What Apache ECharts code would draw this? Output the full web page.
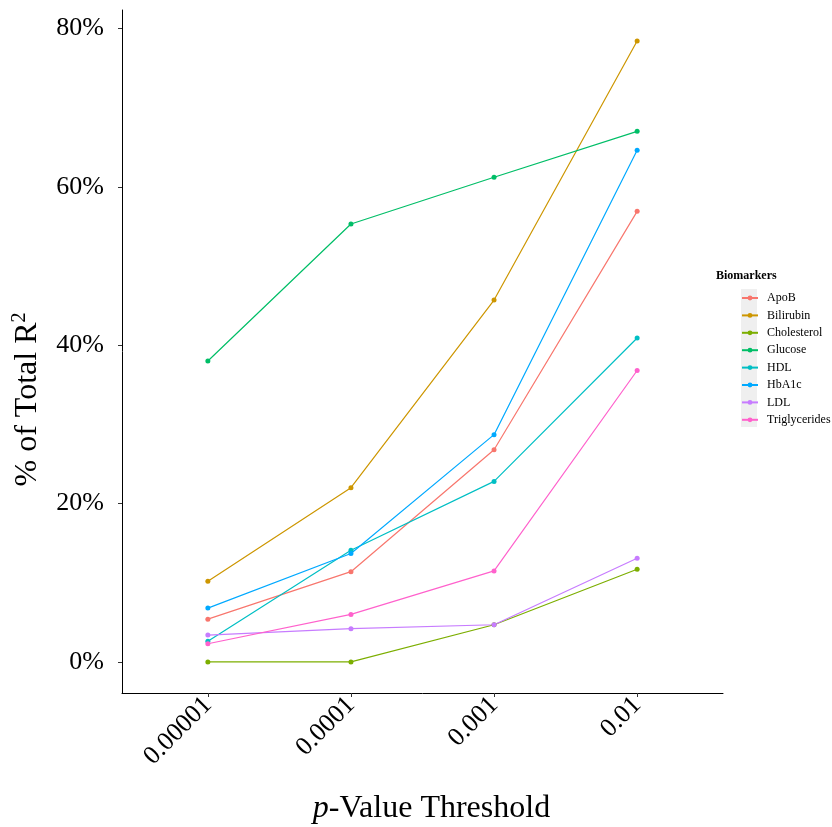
<!DOCTYPE html>
<html>
<head>
<meta charset="utf-8">
<script src="https://cdn.jsdelivr.net/npm/echarts@6/dist/echarts.min.js"></script>
<style>html,body{margin:0;padding:0;background:#fff}#c{width:832px;height:827px}</style>
</head>
<body>
<div id="c"></div>
<script>
const thresholds = ['0.00001', '0.0001', '0.001', '0.01'];
const yTicks = [0, 20, 40, 60, 80];
const ApoB = [5.4, 11.4, 26.8, 56.9];
const Bilirubin = [10.2, 22.0, 45.7, 78.4];
const Cholesterol = [0.0, 0.0, 4.7, 11.7];
const Glucose = [38.0, 55.3, 61.2, 67.0];
const HDL = [2.6, 14.1, 22.8, 40.9];
const HbA1c = [6.8, 13.7, 28.7, 64.6];
const LDL = [3.4, 4.2, 4.7, 13.1];
const Triglycerides = [2.3, 6.0, 11.5, 36.8];

const seriesDefs = [
  ['ApoB', ApoB, '#F8766D'],
  ['Bilirubin', Bilirubin, '#CD9600'],
  ['Cholesterol', Cholesterol, '#7CAE00'],
  ['Glucose', Glucose, '#00BE67'],
  ['HDL', HDL, '#00BFC4'],
  ['HbA1c', HbA1c, '#00A9FF'],
  ['LDL', LDL, '#C77CFF'],
  ['Triglycerides', Triglycerides, '#FF61CC']
];
const xPos = thresholds.map((t, i) => i + 1);
const serif = '"Liberation Serif", "Times New Roman", serif';

const chart = echarts.init(document.getElementById('c'), null, {renderer: 'canvas'});
chart.setOption({
  animation: false,
  backgroundColor: '#fff',
  grid: {left: 122, right: 109, top: 10, bottom: 134, containLabel: false, outerBoundsMode: 'none'},
  title: {
    text: 'Biomarkers', left: 711, top: 265,
    textStyle: {fontFamily: serif, fontWeight: 'bold', fontSize: 12, color: '#000'}
  },
  graphic: [{
    type: 'rect', left: 741, top: 289, z: 0,
    shape: {width: 16, height: 138},
    style: {fill: '#EFEFEF'}
  }],
  legend: {
    orient: 'vertical', left: 741, top: 292, padding: 0,
    itemWidth: 16, itemHeight: 6, itemGap: 5.4,
    textStyle: {fontFamily: serif, fontSize: 12, color: '#000', lineHeight: 12, padding: [0, 0, 0, 4]},
    data: seriesDefs.map(s => s[0])
  },
  xAxis: {
    type: 'value', min: 0.4, max: 4.6,
    name: '{i|p}-Value Threshold', nameLocation: 'middle', nameGap: 100,
    nameTextStyle: {
      fontFamily: serif, fontSize: 32, color: '#000', padding: [0, 0, 0, 18],
      rich: {i: {fontFamily: serif, fontSize: 32, fontStyle: 'italic', color: '#000'}}
    },
    splitLine: {show: false},
    axisLine: {show: true, onZero: false, lineStyle: {color: '#000', width: 1}},
    axisTick: {show: true, length: 4, lineStyle: {color: '#333'}, customValues: xPos},
    axisLabel: {
      customValues: xPos, rotate: 45, margin: 8,
      fontFamily: serif, fontSize: 26, color: '#000',
      formatter: v => thresholds[Math.round(v) - 1]
    }
  },
  yAxis: {
    type: 'value', min: -3.92, max: 82.32,
    name: '{a|% of Total R}{b|2}', nameLocation: 'middle', nameGap: 76, nameRotate: 90,
    nameTextStyle: {
      fontFamily: serif, fontSize: 32, color: '#000', padding: [0, 96, 0, 0],
      rich: {
        a: {fontFamily: serif, fontSize: 32, color: '#000', lineHeight: 36},
        b: {fontFamily: serif, fontSize: 20, color: '#000', lineHeight: 36, verticalAlign: 'top', padding: [0, 0, 14, 0]}
      }
    },
    splitLine: {show: false},
    axisLine: {show: true, lineStyle: {color: '#000', width: 1}},
    axisTick: {show: true, length: 4, lineStyle: {color: '#333'}, customValues: yTicks},
    axisLabel: {
      customValues: yTicks, margin: 18,
      fontFamily: serif, fontSize: 26, color: '#000',
      formatter: v => Math.round(v) + '%'
    }
  },
  series: seriesDefs.map(([name, vals, color]) => ({
    name, type: 'line',
    data: vals.map((v, i) => [xPos[i], v]),
    symbol: 'circle', symbolSize: 5,
    lineStyle: {width: 1.2, color},
    itemStyle: {color},
    color
  }))
});
</script>
</body>
</html>
